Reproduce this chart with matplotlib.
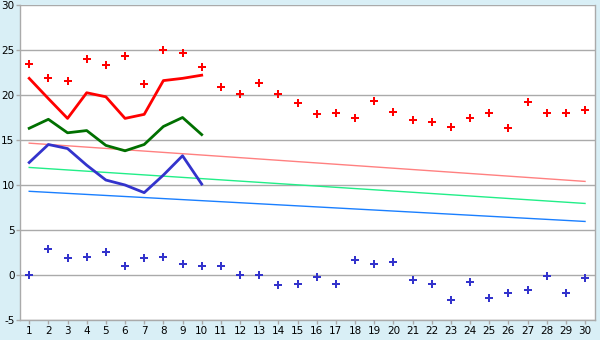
import matplotlib
matplotlib.use("Agg")
import matplotlib.pyplot as plt

plt.rcParams["axes.unicode_minus"] = False

days = list(range(1, 31))

# scattered points
red_pts = [23.4, 21.9, 21.6, 24.0, 23.3, 24.3, 21.2, 25.0, 24.7, 23.1,
           20.85, 20.1, 21.3, 20.1, 19.1, 17.85, 17.95, 17.5, 19.3, 18.1,
           17.2, 16.95, 16.4, 17.4, 17.95, 16.3, 19.2, 17.95, 17.95, 18.3]
blue_pts = [0.0, 2.85, 1.85, 1.95, 2.6, 1.05, 1.85, 2.05, 1.2, 0.95,
            1.05, 0.0, 0.0, -1.15, -1.05, -0.25, -0.95, 1.65, 1.2, 1.4,
            -0.6, -1.05, -2.8, -0.8, -2.5, -1.95, -1.65, -0.15, -1.95, -0.35]

# lines over the first ten days
line_days = days[:10]
red_line = [21.85, 19.6, 17.4, 20.25, 19.8, 17.4, 17.85, 21.6, 21.85, 22.2]
green_line = [16.3, 17.3, 15.8, 16.05, 14.4, 13.8, 14.5, 16.5, 17.5, 15.6]
blue_line = [12.5, 14.5, 14.05, 12.2, 10.55, 10.0, 9.15, 11.1, 13.25, 10.1]

# trend lines (start and end values)
trend_x = [1, 30]
pink_trend = [14.65, 10.4]
mint_trend = [11.95, 7.95]
sky_trend = [9.3, 5.95]

bg = "#d9eff6"
fig = plt.figure(figsize=(6, 3.4), dpi=100, facecolor=bg)
ax = fig.add_axes([20/600, 20/340, 575/600, 315/340])
ax.set_facecolor("white")

for y in range(-5, 31, 5):
    ax.axhline(y, color="#aaaaaa", linewidth=1.0, zorder=1)

ax.plot(trend_x, pink_trend, color="#ff8080", linewidth=1, zorder=2)
ax.plot(trend_x, mint_trend, color="#22ee88", linewidth=1, zorder=2)
ax.plot(trend_x, sky_trend, color="#1a7fff", linewidth=1, zorder=2)

ax.plot(line_days, red_line, color="#ff0000", linewidth=2, zorder=3)
ax.plot(line_days, green_line, color="#007000", linewidth=2, zorder=3)
ax.plot(line_days, blue_line, color="#3333cc", linewidth=2, zorder=3)

ax.plot(days, red_pts, linestyle="none", marker="P", markersize=5.5,
        color="#ff0000", markeredgewidth=0, zorder=4)
ax.plot(days, blue_pts, linestyle="none", marker="P", markersize=5.5,
        color="#3333cc", markeredgewidth=0, zorder=4)

ax.set_xlim(0.52, 30.52)
ax.set_ylim(-5, 30)
ax.set_xticks(days)
ax.set_yticks(range(-5, 31, 5))
ax.tick_params(axis="both", colors="#aaaaaa", labelcolor="black",
               labelsize=7.5, length=3, width=1.0, pad=1)

ax.spines["top"].set_visible(False)
for side in ["left", "right", "bottom"]:
    ax.spines[side].set_color("#aaaaaa")
    ax.spines[side].set_linewidth(1.0)

fig.savefig("out.png", dpi=100, facecolor=bg)
